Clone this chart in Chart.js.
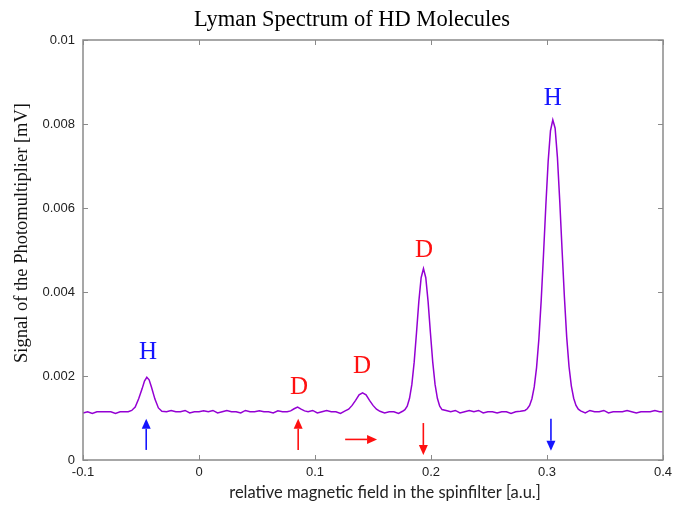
<!DOCTYPE html>
<html>
<head>
<meta charset="utf-8">
<script src="https://cdn.jsdelivr.net/npm/chart.js@4/dist/chart.umd.min.js"></script>
<style>
  html, body { margin: 0; padding: 0; background: #fff; }
  #wrap { width: 673px; height: 506px; }
</style>
</head>
<body>
<div id="wrap"><canvas id="spec"></canvas></div>
<script>
// magnetic field positions (a.u.) and photomultiplier signal (mV)
const fieldX = [
  -0.1, -0.096, -0.092, -0.088, -0.084, -0.08, -0.076, -0.072, -0.068, -0.064, -0.061,
  -0.058, -0.055, -0.052, -0.049, -0.047, -0.045, -0.043, -0.041, -0.038, -0.035, -0.032,
  -0.028, -0.024, -0.02, -0.016, -0.012, -0.008, -0.004, 0, 0.004, 0.008, 0.012, 0.016,
  0.02, 0.024, 0.028, 0.032, 0.036, 0.04, 0.044, 0.048, 0.052, 0.056, 0.06, 0.064, 0.068,
  0.072, 0.076,
  0.079, 0.082, 0.085, 0.088, 0.091,
  0.094, 0.098, 0.102, 0.106, 0.11, 0.114, 0.118, 0.122,
  0.126, 0.129, 0.132, 0.135, 0.138, 0.141, 0.144, 0.147, 0.15, 0.153, 0.156,
  0.16, 0.164, 0.168, 0.172, 0.1755,
  0.1775, 0.1795, 0.1815, 0.1835, 0.1855, 0.1875, 0.1895, 0.1915, 0.1935, 0.1955, 0.1975,
  0.1995, 0.2015, 0.2035, 0.2055, 0.2075, 0.2095,
  0.213, 0.217, 0.221, 0.225, 0.229, 0.233, 0.237, 0.241, 0.245, 0.249, 0.253, 0.257,
  0.261, 0.265, 0.269, 0.273, 0.277,
  0.281, 0.283, 0.285, 0.287, 0.289, 0.291, 0.293, 0.295, 0.297, 0.299, 0.301, 0.303,
  0.305, 0.307, 0.309, 0.311, 0.313, 0.315, 0.317, 0.319, 0.321, 0.323, 0.325, 0.327, 0.329,
  0.333, 0.337, 0.341, 0.345, 0.349, 0.353, 0.357, 0.361, 0.365, 0.369, 0.373, 0.377,
  0.381, 0.385, 0.389, 0.393, 0.397, 0.4
];
const signal = [
  0.00112, 0.00115, 0.00111, 0.00115, 0.00115, 0.00115, 0.00115, 0.00111, 0.00115, 0.00115, 0.00115,
  0.00118, 0.00126, 0.00146, 0.00170, 0.00188, 0.00197, 0.00191, 0.00174, 0.00145, 0.00124, 0.00116,
  0.00115, 0.00118, 0.00115, 0.00115, 0.00118, 0.00112, 0.00115, 0.00115, 0.00117, 0.00115, 0.00118, 0.00112,
  0.00115, 0.00118, 0.00115, 0.00115, 0.00112, 0.00118, 0.00115, 0.00115, 0.00117, 0.00115, 0.00115, 0.00112,
  0.00117, 0.00115, 0.00115,
  0.00117, 0.00122, 0.00126, 0.00121, 0.00117,
  0.00115, 0.00118, 0.00112, 0.00115, 0.00118, 0.00115, 0.00115, 0.00111,
  0.00117, 0.00121, 0.00130, 0.00142, 0.00155, 0.00160, 0.00155, 0.00142, 0.00130, 0.00121, 0.00116,
  0.00112, 0.00115, 0.00115, 0.00111, 0.00116,
  0.00120, 0.00128, 0.00147, 0.00180, 0.00233, 0.00303, 0.00377, 0.00434, 0.00456, 0.00434, 0.00377,
  0.00303, 0.00233, 0.00180, 0.00147, 0.00128, 0.00120,
  0.00118, 0.00115, 0.00118, 0.00112, 0.00115, 0.00118, 0.00115, 0.00118, 0.00112, 0.00115, 0.00115, 0.00112,
  0.00115, 0.00115, 0.00111, 0.00115, 0.00116,
  0.00118, 0.00122, 0.00130, 0.00146, 0.00174, 0.00220, 0.00288, 0.00380, 0.00490, 0.00606, 0.00711, 0.00784,
  0.00810, 0.00790, 0.00720, 0.00616, 0.00500, 0.00388, 0.00292, 0.00222, 0.00176, 0.00147, 0.00130, 0.00121, 0.00117,
  0.00112, 0.00118, 0.00115, 0.00115, 0.00118, 0.00112, 0.00115, 0.00115, 0.00115, 0.00118, 0.00115, 0.00112,
  0.00115, 0.00115, 0.00115, 0.00118, 0.00115, 0.00115
];

const xTicks = [-0.1, 0, 0.1, 0.2, 0.3, 0.4];
const yTicks = [0, 0.002, 0.004, 0.006, 0.008, 0.01];

// peak labels
const peakText = ['H', 'D', 'D', 'D', 'H'];
const peakX = [-0.044, 0.0862, 0.1405, 0.194, 0.305];
const peakY = [0.00255, 0.00172, 0.00222, 0.0050, 0.00861];
const peakColor = ['#1414ff', '#ff1010', '#ff1010', '#ff1010', '#1414ff'];

// arrows: start/end in data units
const arrowX0 = [-0.0455, 0.0855, 0.126, 0.1934, 0.3034];
const arrowY0 = [0.00024, 0.00024, 0.00049, 0.00088, 0.00098];
const arrowX1 = [-0.0455, 0.0855, 0.1535, 0.1934, 0.3034];
const arrowY1 = [0.00098, 0.00098, 0.00049, 0.00012, 0.00022];
const arrowColor = ['#1414ff', '#ff1010', '#ff1010', '#ff1010', '#1414ff'];

const points = fieldX.map((x, i) => ({ x: x, y: signal[i] }));

const fmt = v => String(Number(v.toFixed(4)));

const frame = {
  id: 'frame',
  afterDatasetsDraw(chart) {
    const { ctx, chartArea: a, scales: { x, y } } = chart;
    ctx.save();
    ctx.strokeStyle = '#8a8a8a';
    ctx.lineWidth = 1.5;
    ctx.strokeRect(a.left, a.top, a.right - a.left, a.bottom - a.top);
    ctx.lineWidth = 1;
    ctx.beginPath();
    xTicks.forEach(v => {
      const px = Math.round(x.getPixelForValue(v)) + 0.5;
      ctx.moveTo(px, a.bottom); ctx.lineTo(px, a.bottom - 5);
      ctx.moveTo(px, a.top); ctx.lineTo(px, a.top + 5);
    });
    yTicks.forEach(v => {
      const py = Math.round(y.getPixelForValue(v)) + 0.5;
      ctx.moveTo(a.left, py); ctx.lineTo(a.left + 5, py);
      ctx.moveTo(a.right, py); ctx.lineTo(a.right - 5, py);
    });
    ctx.stroke();

    // arrows
    arrowX0.forEach((v, i) => {
      const x0 = x.getPixelForValue(v), y0 = y.getPixelForValue(arrowY0[i]);
      const x1 = x.getPixelForValue(arrowX1[i]), y1 = y.getPixelForValue(arrowY1[i]);
      const ang = Math.atan2(y1 - y0, x1 - x0);
      const head = 10, half = 4.5;
      ctx.strokeStyle = arrowColor[i];
      ctx.fillStyle = arrowColor[i];
      ctx.lineWidth = 1.6;
      ctx.beginPath();
      ctx.moveTo(x0, y0);
      ctx.lineTo(x1 - Math.cos(ang) * head, y1 - Math.sin(ang) * head);
      ctx.stroke();
      ctx.beginPath();
      ctx.moveTo(x1, y1);
      ctx.lineTo(x1 - Math.cos(ang) * head - Math.sin(ang) * half, y1 - Math.sin(ang) * head + Math.cos(ang) * half);
      ctx.lineTo(x1 - Math.cos(ang) * head + Math.sin(ang) * half, y1 - Math.sin(ang) * head - Math.cos(ang) * half);
      ctx.closePath();
      ctx.fill();
    });

    // peak labels
    ctx.font = '25px "Liberation Serif", "DejaVu Serif", serif';
    ctx.textAlign = 'center';
    ctx.textBaseline = 'middle';
    peakText.forEach((t, i) => {
      ctx.fillStyle = peakColor[i];
      ctx.fillText(t, x.getPixelForValue(peakX[i]), y.getPixelForValue(peakY[i]));
    });

    // titles
    ctx.fillStyle = '#000';
    ctx.font = '22.5px "Liberation Serif", serif';
    ctx.fillText('Lyman Spectrum of HD Molecules', 352, 20);
    ctx.fillStyle = '#222';
    ctx.font = '16.5px Lato, "Open Sans", sans-serif';
    ctx.fillText('relative magnetic field in the spinfilter [a.u.]', 385, 493);
    ctx.save();
    ctx.translate(22, 233);
    ctx.rotate(-Math.PI / 2);
    ctx.fillStyle = '#111';
    ctx.font = '18.5px "Liberation Serif", serif';
    ctx.fillText('Signal of the Photomultiplier [mV]', 0, 0);
    ctx.restore();
    ctx.restore();
  }
};

new Chart(document.getElementById('spec'), {
  type: 'line',
  data: {
    datasets: [{
      data: points,
      borderColor: '#9400d3',
      borderWidth: 1.5,
      pointRadius: 0,
      tension: 0,
      fill: false
    }]
  },
  options: {
    responsive: true,
    maintainAspectRatio: false,
    animation: false,
    events: [],
    layout: { padding: { top: 40, right: 10, bottom: 0, left: 0 } },
    plugins: { legend: { display: false }, tooltip: { enabled: false } },
    scales: {
      x: {
        type: 'linear',
        min: -0.1, max: 0.4,
        afterBuildTicks: s => { s.ticks = xTicks.map(v => ({ value: v })); },
        afterFit: s => { s.height = 46; s.paddingLeft = 0; s.paddingRight = 0; },
        grid: { display: false, drawTicks: false },
        border: { display: false },
        ticks: {
          padding: 5,
          color: '#222',
          font: { family: '"Liberation Sans", Arial, sans-serif', size: 13 },
          maxRotation: 0,
          callback: v => fmt(v)
        }
      },
      y: {
        min: 0, max: 0.01,
        afterBuildTicks: s => { s.ticks = yTicks.map(v => ({ value: v })); },
        afterFit: s => { s.width = 83; s.paddingTop = 0; s.paddingBottom = 0; },
        grid: { display: false, drawTicks: false },
        border: { display: false },
        ticks: {
          padding: 8,
          color: '#222',
          font: { family: '"Liberation Sans", Arial, sans-serif', size: 13 },
          callback: v => fmt(v)
        }
      }
    }
  },
  plugins: [frame]
});
</script>
</body>
</html>
